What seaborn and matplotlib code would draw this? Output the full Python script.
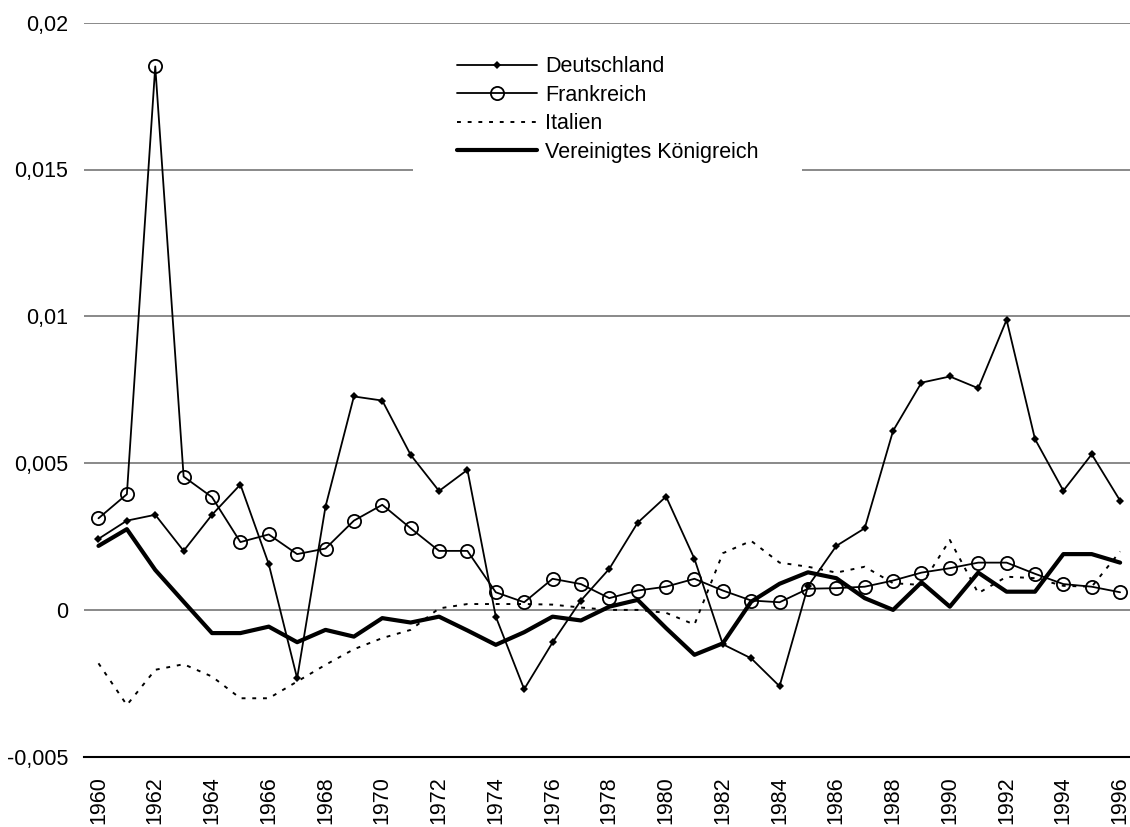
import numpy as np
import pandas as pd
import matplotlib
matplotlib.use("Agg")
import matplotlib.pyplot as plt
from matplotlib.patches import Rectangle
import seaborn as sns

# data
years = list(range(1960, 1997))
deutschland = [0.00242, 0.00304, 0.00324, 0.00201, 0.00324, 0.00427, 0.00156, -0.00233, 0.00352, 0.00727,
               0.00713, 0.00528, 0.00405, 0.00477, -0.00023, -0.00270, -0.00111, 0.00032, 0.00140, 0.00297,
               0.00386, 0.00174, -0.00117, -0.00165, -0.00260, 0.00080, 0.00218, 0.00278, 0.00610, 0.00774,
               0.00795, 0.00755, 0.00988, 0.00582, 0.00406, 0.00530, 0.00372]
frankreich = [0.00312, 0.00394, 0.01851, 0.00454, 0.00384, 0.00231, 0.00257, 0.00190, 0.00209, 0.00304,
              0.00358, 0.00278, 0.00201, 0.00201, 0.00060, 0.00026, 0.00106, 0.00088, 0.00040, 0.00066,
              0.00079, 0.00106, 0.00066, 0.00032, 0.00026, 0.00072, 0.00074, 0.00079, 0.00100, 0.00127,
              0.00142, 0.00161, 0.00161, 0.00123, 0.00088, 0.00079, 0.00060]
italien = [-0.00182, -0.00324, -0.00204, -0.00185, -0.00227, -0.00301, -0.00301, -0.00244, -0.00187, -0.00134,
           -0.00096, -0.00068, 0.00005, 0.00020, 0.00020, 0.00020, 0.00018, 0.00008, 0.00000, 0.00000,
           -0.00010, -0.00050, 0.00193, 0.00235, 0.00161, 0.00147, 0.00127, 0.00147, 0.00091, 0.00085,
           0.00238, 0.00057, 0.00113, 0.00108, 0.00082, 0.00079, 0.00199]
uk = [0.00218, 0.00275, 0.00136, 0.00028, -0.00079, -0.00079, -0.00057, -0.00110, -0.00068, -0.00091,
      -0.00028, -0.00043, -0.00023, -0.00070, -0.00119, -0.00076, -0.00023, -0.00036, 0.00011, 0.00034,
      -0.00062, -0.00153, -0.00114, 0.00028, 0.00089, 0.00128, 0.00108, 0.00040, 0.00000, 0.00094,
      0.00011, 0.00127, 0.00062, 0.00062, 0.00190, 0.00190, 0.00161]

series_names = ["Deutschland", "Frankreich", "Italien", "Vereinigtes Königreich"]
y_ticks = [-0.005, 0, 0.005, 0.01, 0.015, 0.02]
y_tick_labels = ["-0,005", "0", "0,005", "0,01", "0,015", "0,02"]
label_years = list(range(1960, 1997, 2))

sns.set_style("white")
plt.rcParams["font.family"] = ["Liberation Sans", "DejaVu Sans"]
plt.rcParams["text.color"] = "black"
plt.rcParams["xtick.color"] = "black"
plt.rcParams["ytick.color"] = "black"

FS = 15.5

fig = plt.figure(figsize=(11.3, 8.27), dpi=100)
ax = fig.add_axes([84.3 / 1130, 70.3 / 827, 1050 / 1130, 734 / 827])

df = pd.DataFrame({"Jahr": years, "Deutschland": deutschland, "Frankreich": frankreich,
                   "Italien": italien, "Vereinigtes Königreich": uk})

sns.lineplot(data=df, x="Jahr", y="Deutschland", ax=ax, color="black", lw=1.3,
             marker="D", markersize=4.5, markeredgewidth=0, label=series_names[0], zorder=4)
sns.lineplot(data=df, x="Jahr", y="Frankreich", ax=ax, color="black", lw=1.3,
             marker="o", markersize=9.5, markerfacecolor="none", markeredgecolor="black",
             markeredgewidth=1.3, label=series_names[1], zorder=4)
sns.lineplot(data=df, x="Jahr", y="Italien", ax=ax, color="black", lw=1.4,
             linestyle=(0, (2, 3.5)), label=series_names[2], zorder=3)
sns.lineplot(data=df, x="Jahr", y="Vereinigtes Königreich", ax=ax, color="black", lw=3.0,
             label=series_names[3], zorder=3)

ax.set_xlim(1959.5, 1996.5)
ax.set_ylim(-0.005, 0.02)

# gridlines
ax.set_yticks(y_ticks)
ax.set_yticklabels(y_tick_labels, fontsize=FS)
for v in y_ticks[1:]:
    ax.axhline(v, color="#808080", lw=1.3, zorder=0.5)
ax.tick_params(axis="y", length=0, pad=11.5)

# category axis: ticks between years, labels on every second year
ax.set_xticks(np.arange(1959.5, 1997, 1.0))
ax.set_xticklabels([])
ax.tick_params(axis="x", which="major", direction="out", length=4.5, width=1.0, color="black")
ax.set_xticks(label_years, minor=True)
ax.set_xticklabels([str(y) for y in label_years], minor=True, rotation=90, fontsize=FS)
ax.tick_params(axis="x", which="minor", length=0, pad=14)

for s in ["top", "right", "left"]:
    ax.spines[s].set_visible(False)
ax.spines["bottom"].set_color("black")
ax.spines["bottom"].set_linewidth(1.5)
ax.set_xlabel("")
ax.set_ylabel("")

# white legend area covering the gridline
ax.add_patch(Rectangle(((413 - 84.3) / 1050, (756.7 - 178) / 734), (802 - 413) / 1050, 138 / 734,
                       transform=ax.transAxes, facecolor="white", edgecolor="none", zorder=1))
leg = ax.legend(loc="center left", bbox_to_anchor=((456.7 - 84.3) / 1050, (756.7 - 109.5) / 734),
                frameon=False, fontsize=FS, handlelength=3.75, handletextpad=0.35,
                labelspacing=0.35, borderpad=0, borderaxespad=0)

fig.savefig("out.png", dpi=100)
